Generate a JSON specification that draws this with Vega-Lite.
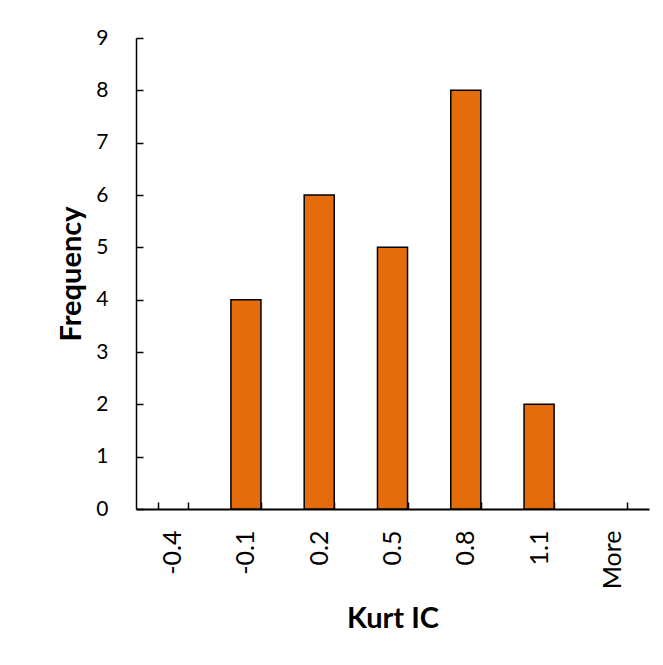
{
  "$schema": "https://vega.github.io/schema/vega-lite/v6.json",
  "autosize": {"type": "none"},
  "padding": {"left": 136, "top": 38, "right": 14, "bottom": 156},
  "width": 513,
  "height": 471,
  "background": "white",
  "data": {"values": [
    {"bin": "-0.4", "frequency": 0},
    {"bin": "-0.1", "frequency": 4},
    {"bin": "0.2", "frequency": 6},
    {"bin": "0.5", "frequency": 5},
    {"bin": "0.8", "frequency": 8},
    {"bin": "1.1", "frequency": 2},
    {"bin": "More", "frequency": 0}
  ]},
  "mark": {"type": "bar", "color": "#E46C0A", "stroke": "black", "strokeWidth": 1.5},
  "encoding": {
    "x": {
      "field": "bin", "type": "nominal", "sort": null,
      "scale": {"paddingInner": 0.59, "paddingOuter": 0.295},
      "axis": {
        "title": "Kurt IC",
        "titleFont": "Lato", "titleFontSize": 29, "titleFontWeight": "bold", "titleColor": "black",
        "titlePadding": 16,
        "labelAngle": 270, "labelAlign": "right", "labelBaseline": "middle",
        "labelFont": "Lato", "labelFontSize": 25, "labelColor": "black",
        "labelPadding": 28,
        "tickBand": "extent", "tickSize": -7, "tickColor": "black", "tickWidth": 1.5,
        "domainColor": "black", "domainWidth": 2
      }
    },
    "y": {
      "field": "frequency", "type": "quantitative",
      "scale": {"domain": [0, 9], "nice": false},
      "axis": {
        "title": "Frequency",
        "titleFont": "Lato", "titleFontSize": 29, "titleFontWeight": "bold", "titleColor": "black",
        "titlePadding": 9,
        "values": [0, 1, 2, 3, 4, 5, 6, 7, 8, 9],
        "labelFont": "Lato", "labelFontSize": 21, "labelColor": "black",
        "labelPadding": 35,
        "tickSize": -7, "tickColor": "black", "tickWidth": 1.5,
        "domainColor": "black", "domainWidth": 1.5,
        "grid": false
      }
    },
    "strokeOpacity": {
      "condition": {"test": "datum.frequency > 0", "value": 1},
      "value": 0
    }
  },
  "config": {"view": {"stroke": null}}
}
